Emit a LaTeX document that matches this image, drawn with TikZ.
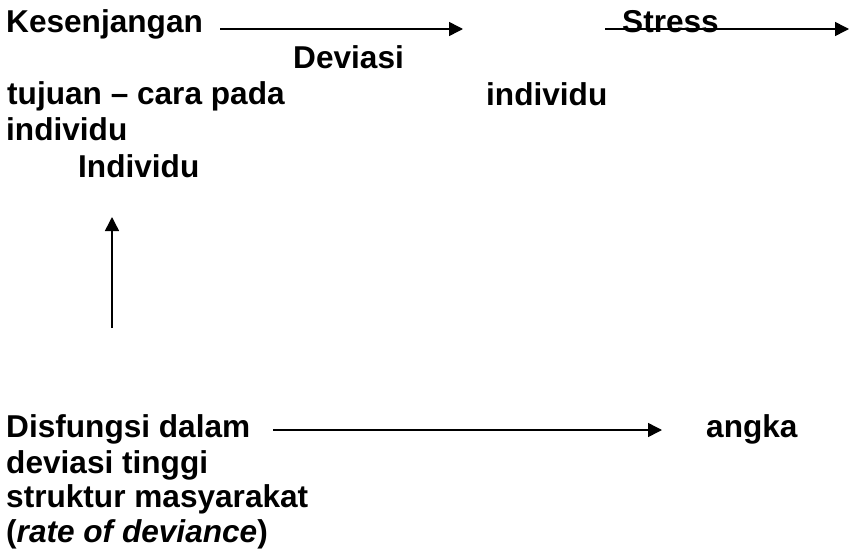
\documentclass[tikz,border=0pt]{standalone}
\usepackage{fontspec}
\setmainfont{Liberation Sans}
\usetikzlibrary{arrows.meta}
\begin{document}
\begin{tikzpicture}[x=1pt,y=-1pt,
  lbl/.style={anchor=base west,inner sep=0pt,
    font=\bfseries\fontsize{31.6}{36}\selectfont},
  flow/.style={line width=1.5pt,-{Triangle[length=14pt,width=14pt]}}]
\useasboundingbox[fill=white] (0,0) rectangle (856,554);

% upper chain
\node[lbl] (kes)  at (6,32)   {Kesenjangan};
\node[lbl] (dev)  at (293,68) {Deviasi};
\node[lbl] (tuj)  at (7,104)  {tujuan – cara pada};
\node[lbl] (ind1) at (6,140)  {individu};
\node[lbl] (ind2) at (78,177) {Individu};
\node[lbl] (ind3) at (486,105) {individu};
\node[lbl] (str)  at (622,32) {Stress};

% lower chain
\node[lbl] (dis)  at (6,437)   {Disfungsi dalam};
\node[lbl] (ang)  at (706,437) {angka};
\node[lbl] (devt) at (6,473)   {deviasi tinggi};
\node[lbl] (stm)  at (6,507)   {struktur masyarakat};
\node[lbl] (rate) at (6,542)   {(\textit{rate of deviance})};

% arrow ends
\coordinate (a1s) at (220,29);
\coordinate (a1e) at (463,29);
\coordinate (a2s) at (605,29);
\coordinate (a2e) at (849,29);
\coordinate (vs)  at (112,328);
\coordinate (ve)  at (112,217);
\coordinate (a3s) at (273,430);
\coordinate (a3e) at (662,430);

\draw[flow] (a1s) -- (a1e);
\draw[flow] (a2s) -- (a2e);
\draw[flow] (vs) -- (ve);
\draw[flow] (a3s) -- (a3e);
\end{tikzpicture}
\end{document}
